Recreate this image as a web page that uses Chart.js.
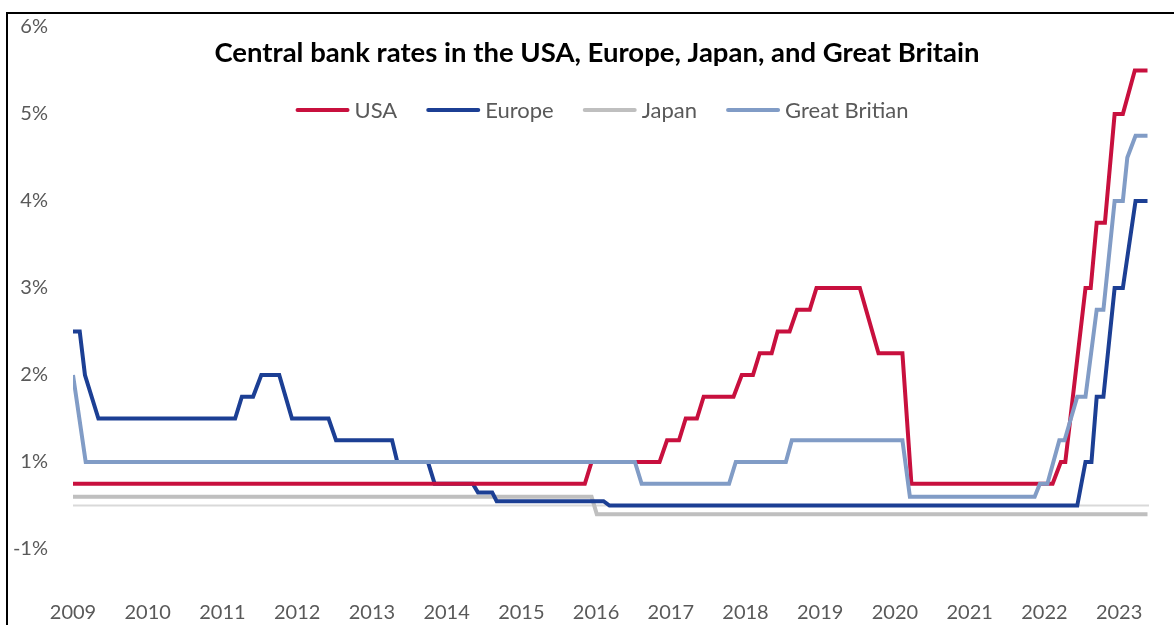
<!DOCTYPE html>
<html>
<head>
<meta charset="utf-8">
<script src="https://cdn.jsdelivr.net/npm/chart.js@4/dist/chart.umd.min.js"></script>
<style>
  html, body { margin: 0; padding: 0; background: #fff; }
  #wrap { position: relative; width: 1174px; height: 625px; }
</style>
</head>
<body>
<div id="wrap"><canvas id="rates-chart" width="1174" height="625"></canvas></div>
<script>
var titleText = 'Central bank rates in the USA, Europe, Japan, and Great Britain';

var xTickValues = [2009, 2010, 2011, 2012, 2013, 2014, 2015, 2016, 2017, 2018, 2019, 2020, 2021, 2022, 2023];
var yTickValues = [0, 1, 2, 3, 4, 5, 6];
var yTickLabels = ['-1%', '1%', '2%', '3%', '4%', '5%', '6%'];

var usaYears = [2009.0, 2015.85, 2015.94, 2016.85, 2016.95, 2017.11, 2017.20, 2017.35, 2017.44, 2017.84,
    2017.95, 2018.10, 2018.19, 2018.35, 2018.43, 2018.59, 2018.69, 2018.86, 2018.95, 2019.53,
    2019.78, 2020.10, 2020.22, 2022.11, 2022.22, 2022.28, 2022.55, 2022.62, 2022.70, 2022.81,
    2022.94, 2023.05, 2023.21, 2023.38];
var usaRates = [0.75, 0.75, 1.0, 1.0, 1.25, 1.25, 1.5, 1.5, 1.75, 1.75,
    2.0, 2.0, 2.25, 2.25, 2.5, 2.5, 2.75, 2.75, 3.0, 3.0,
    2.25, 2.25, 0.75, 0.75, 1.0, 1.0, 3.0, 3.0, 3.75, 3.75,
    5.0, 5.0, 5.5, 5.5];

var europeYears = [2009.0, 2009.09, 2009.16, 2009.34, 2011.17, 2011.26, 2011.41, 2011.52, 2011.76, 2011.93,
    2012.42, 2012.52, 2013.27, 2013.34, 2013.75, 2013.84, 2014.35, 2014.42, 2014.61, 2014.67,
    2016.10, 2016.18, 2022.44, 2022.55, 2022.63, 2022.70, 2022.79, 2022.94, 2023.05, 2023.22, 2023.38];
var europeRates = [2.5, 2.5, 2.0, 1.5, 1.5, 1.75, 1.75, 2.0, 2.0, 1.5,
    1.5, 1.25, 1.25, 1.0, 1.0, 0.75, 0.75, 0.65, 0.65, 0.55,
    0.55, 0.5, 0.5, 1.0, 1.0, 1.75, 1.75, 3.0, 3.0, 4.0, 4.0];

var japanYears = [2009.0, 2015.94, 2016.01, 2023.38];
var japanRates = [0.6, 0.6, 0.4, 0.4];

var britainYears = [2009.0, 2009.17, 2016.52, 2016.61, 2017.78, 2017.87, 2018.54, 2018.62, 2020.10, 2020.20,
    2021.87, 2021.94, 2022.04, 2022.20, 2022.27, 2022.44, 2022.55, 2022.70, 2022.79, 2022.94,
    2023.05, 2023.11, 2023.22, 2023.38];
var britainRates = [2.0, 1.0, 1.0, 0.75, 0.75, 1.0, 1.0, 1.25, 1.25, 0.6,
    0.6, 0.75, 0.75, 1.25, 1.25, 1.75, 1.75, 2.75, 2.75, 4.0,
    4.0, 4.5, 4.75, 4.75];

var baseYears = [2009.0, 2023.4];
var baseRates = [0.5, 0.5];

function toPoints(xs, ys) {
    return xs.map(function (x, i) { return { x: x, y: ys[i] }; });
}

function line(label, xs, ys, color, width, order) {
    return {
        label: label,
        data: toPoints(xs, ys),
        borderColor: color,
        backgroundColor: color,
        borderWidth: width,
        pointRadius: 0,
        tension: 0,
        order: order
    };
}

// title, legend and the frame sit on top of the plot, like in the original
var overlay = {
    id: 'overlay',
    afterDraw: function (chart) {
        var ctx = chart.ctx;
        ctx.save();
        ctx.strokeStyle = '#000';
        ctx.lineWidth = 2;
        ctx.beginPath();
        ctx.moveTo(7, 625);
        ctx.lineTo(7, 13);
        ctx.lineTo(1174, 13);
        ctx.stroke();

        ctx.fillStyle = '#000';
        ctx.font = 'bold 27.5px Lato';
        ctx.textAlign = 'center';
        ctx.textBaseline = 'middle';
        ctx.fillText(titleText, 597, 53);

        var items = chart.data.datasets.filter(function (d) { return d.label; });
        ctx.font = '22px Lato';
        var sample = 54, gap = 5, between = 29;
        var total = 0;
        items.forEach(function (d, i) {
            total += sample + gap + ctx.measureText(d.label).width + (i ? between : 0);
        });
        var x = 602 - total / 2, y = 110;
        ctx.textAlign = 'left';
        items.forEach(function (d) {
            ctx.strokeStyle = d.borderColor;
            ctx.lineWidth = 4;
            ctx.lineCap = 'round';
            ctx.beginPath();
            ctx.moveTo(x + 2, y);
            ctx.lineTo(x + sample - 2, y);
            ctx.stroke();
            x += sample + gap;
            ctx.fillStyle = '#595959';
            ctx.fillText(d.label, x, y + 1);
            x += ctx.measureText(d.label).width + between;
        });
        ctx.restore();
    }
};

var ctx = document.getElementById('rates-chart').getContext('2d');
var ratesChart = new Chart(ctx, {
    type: 'line',
    data: {
        datasets: [
            line('USA', usaYears, usaRates, '#C8103E', 4, 1),
            line('Europe', europeYears, europeRates, '#1C3F94', 4, 2),
            line('Japan', japanYears, japanRates, '#BFBFBF', 4, 3),
            line('Great Britian', britainYears, britainRates, '#819CC6', 4, 0),
            line('', baseYears, baseRates, '#D9D9D9', 2, 4)
        ]
    },
    options: {
        responsive: false,
        animation: false,
        layout: { padding: { top: 27, right: 25, left: 0, bottom: 0 } },
        plugins: {
            legend: { display: false },
            title: { display: false },
            tooltip: { enabled: false }
        },
        scales: {
            x: {
                type: 'linear',
                min: 2009,
                max: 2023.4,
                grid: { display: false, drawTicks: false },
                border: { display: false },
                afterBuildTicks: function (s) {
                    s.ticks = xTickValues.map(function (v) { return { value: v }; });
                },
                afterFit: function (s) { s.height = 32.5; },
                ticks: {
                    autoSkip: false,
                    maxRotation: 0,
                    padding: 8,
                    color: '#595959',
                    font: { family: 'Lato', size: 20 },
                    callback: function (v) { return String(v); }
                }
            },
            y: {
                min: -0.5,
                max: 6,
                grid: { display: false, drawTicks: false },
                border: { display: false },
                afterBuildTicks: function (s) {
                    s.ticks = yTickValues.map(function (v) { return { value: v }; });
                },
                afterFit: function (s) {
                    s.width = 73;
                    s.paddingTop = 0;
                    s.paddingBottom = 0;
                },
                ticks: {
                    padding: 25,
                    color: '#595959',
                    font: { family: 'Lato', size: 20 },
                    callback: function (v) { return yTickLabels[yTickValues.indexOf(v)]; }
                }
            }
        }
    },
    plugins: [overlay]
});
</script>
</body>
</html>
